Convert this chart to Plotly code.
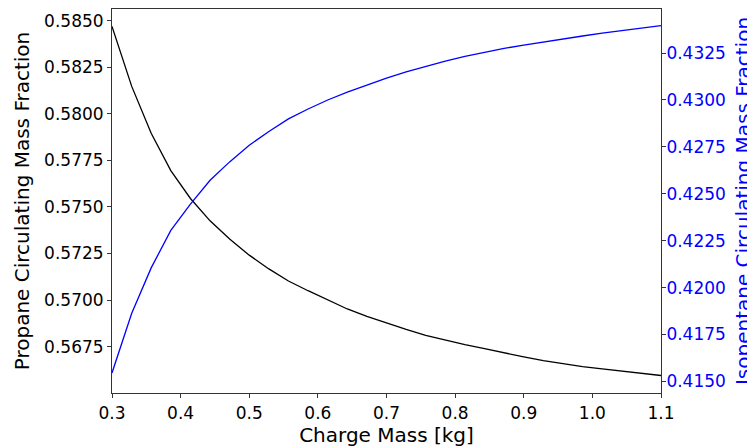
import plotly.graph_objects as go

charge_mass = [0.3000, 0.3286, 0.3571, 0.3857, 0.4143, 0.4429, 0.4714, 0.5000,
               0.5286, 0.5571, 0.5857, 0.6143, 0.6429, 0.6714, 0.7000, 0.7286,
               0.7571, 0.7857, 0.8143, 0.8429, 0.8714, 0.9000, 0.9286, 0.9571,
               0.9857, 1.0143, 1.0429, 1.0714, 1.1000]

propane = [0.58469, 0.58148, 0.57895, 0.57695, 0.57545, 0.57425, 0.57327, 0.57241,
           0.57167, 0.57102, 0.57050, 0.57000, 0.56952, 0.56912, 0.56875, 0.56842,
           0.56810, 0.56784, 0.56761, 0.56739, 0.56716, 0.56695, 0.56675, 0.56658,
           0.56643, 0.56630, 0.56618, 0.56606, 0.56595]

isopentane = [0.41545, 0.41862, 0.42105, 0.42305, 0.42445, 0.42572, 0.42670, 0.42759,
              0.42832, 0.42899, 0.42952, 0.43000, 0.43042, 0.43080, 0.43117, 0.43150,
              0.43180, 0.43207, 0.43233, 0.43255, 0.43275, 0.43293, 0.43310, 0.43326,
              0.43341, 0.43356, 0.43370, 0.43383, 0.43396]

x_ticks = [0.3, 0.4, 0.5, 0.6, 0.7, 0.8, 0.9, 1.0, 1.1]
left_ticks = [0.5675, 0.5700, 0.5725, 0.5750, 0.5775, 0.5800, 0.5825, 0.5850]
right_ticks = [0.4150, 0.4175, 0.4200, 0.4225, 0.4250, 0.4275, 0.4300, 0.4325]

FONT = "DejaVu Sans"
AX = "#333333"

fig = go.Figure()
fig.add_trace(go.Scatter(x=charge_mass, y=propane, mode="lines",
                         line=dict(color="black", width=1.3), yaxis="y",
                         showlegend=False))
fig.add_trace(go.Scatter(x=charge_mass, y=isopentane, mode="lines",
                         line=dict(color="#0000ff", width=1.3), yaxis="y2",
                         showlegend=False))

# the page body adds an 8px offset; the figure is sized to compensate
fig.update_layout(
    width=747, height=440,
    margin=dict(l=104, r=94, t=1, b=55),
    paper_bgcolor="white", plot_bgcolor="white",
    font=dict(family=FONT, size=17, color="black"),
    xaxis=dict(
        range=[0.3, 1.1], tickvals=x_ticks,
        ticktext=[f"{v:.1f}" for v in x_ticks],
        showgrid=False, zeroline=False, automargin=False,
        showline=True, linecolor=AX, linewidth=1, mirror=True,
        ticks="outside", ticklen=4, tickcolor=AX, ticklabelstandoff=1,
        title=dict(text="Charge Mass [kg]", font=dict(size=20), standoff=4),
    ),
    yaxis=dict(
        range=[0.56501, 0.58562], tickvals=left_ticks,
        ticktext=[f"{v:.4f}" for v in left_ticks],
        showgrid=False, zeroline=False, automargin=False,
        showline=True, linecolor=AX, linewidth=1,
        ticks="outside", ticklen=4, tickcolor=AX, ticklabelstandoff=0,
        title=dict(text="Propane Circulating Mass Fraction", font=dict(size=20), standoff=9),
    ),
    yaxis2=dict(
        range=[0.41438, 0.43485], tickvals=right_ticks,
        ticktext=[f"{v:.4f}" for v in right_ticks],
        overlaying="y", side="right",
        showgrid=False, zeroline=False, automargin=False,
        showline=True, linecolor=AX, linewidth=1,
        ticks="outside", ticklen=4, tickcolor=AX, ticklabelstandoff=-3,
        tickfont=dict(color="#0000ff"),
        title=dict(text="Isopentane Circulating Mass Fraction",
                   font=dict(size=20, color="#0000ff"), standoff=14),
    ),
)

fig.write_html("out.html")
